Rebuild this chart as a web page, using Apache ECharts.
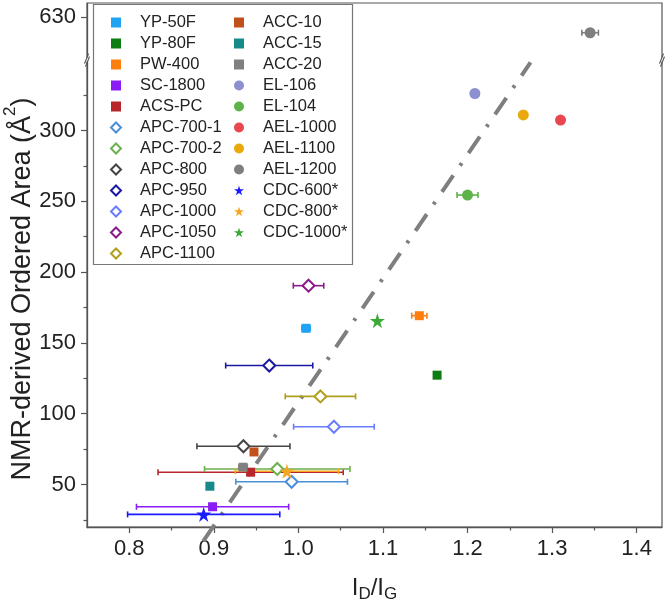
<!DOCTYPE html>
<html><head><meta charset="utf-8">
<script src="https://cdn.jsdelivr.net/npm/echarts@6/dist/echarts.min.js"></script>
<style>html,body{margin:0;padding:0;background:#fff}#c{width:666px;height:602px}</style>
</head><body><div id="c"></div>
<script>
// ---- data ----
const names = ['YP-50F','YP-80F','PW-400','SC-1800','ACS-PC','APC-700-1','APC-700-2','APC-800','APC-950','APC-1000','APC-1050','APC-1100',
  'ACC-10','ACC-15','ACC-20','EL-106','EL-104','AEL-1000','AEL-1100','AEL-1200','CDC-600*','CDC-800*','CDC-1000*'];
const idg = [1.009, 1.164, 1.143, 0.8985, 0.9435, 0.992, 0.975, 0.935, 0.9655, 1.042, 1.012, 1.026,
  0.9475, 0.8953, 0.9346, 1.2087, 1.200, 1.310, 1.266, 1.345, 0.888, 0.9864, 1.0934];
const area = [160.3, 127.2, 169.2, 34.3, 58.7, 51.9, 61.0, 77.0, 134.0, 90.8, 190.4, 112.2,
  73.0, 48.8, 62.2, 326.1, 254.4, 307.3, 311.0, 619.0, 28.9, 59.4, 165.7];
const idgErr = [0.005, 0, 0.009, 0.090, 0.1095, 0.066, 0.086, 0.055, 0.0515, 0.0477, 0.018, 0.0416,
  0, 0, 0.005, 0, 0.0124, 0, 0, 0.0098, 0.090, 0.061, 0];
const trendX = [0.8875, 1.2745];
const trendY = [10, 348];
const yTickValues = [50, 100, 150, 200, 250, 300, 630];
const yMinorValues = [25, 75, 125, 175, 225, 275, 325];
const xTickValues = [0.8, 0.9, 1.0, 1.1, 1.2, 1.3, 1.4];
const xMinorValues = [0.85, 0.95, 1.05, 1.15, 1.25, 1.35];

// ---- styles ----
const colors = ['#1fa3f2','#0b7d12','#ff7f0e','#8a1cf5','#b8262b','#4a90d9','#6cb04e','#444444','#1a1aa0','#6b7dff','#8b1a8b','#b0a01c',
  '#c0501c','#168a88','#808080','#8c8fd0','#5db34a','#e8474f','#eaa90a','#7f7f7f','#1a1aff','#f5a623','#3aaa35'];
const shapes = ['sq','sq','sq','sq','sq','di','di','di','di','di','di','di','sq','sq','sq','ci','ci','ci','ci','ci','st','st','st'];
const STAR = 'path://M50,0 L61.2,34.5 L97.6,34.5 L68.2,55.9 L79.4,90.5 L50,69.1 L20.6,90.5 L31.8,55.9 L2.4,34.5 L38.8,34.5 Z';
const FONT = 'Liberation Sans, Arial, sans-serif';

const chart = echarts.init(document.getElementById('c'), null, {renderer: 'canvas'});
const series = [];
names.forEach((n, i) => {
  const c = colors[i];
  if (idgErr[i] > 0) {
    series.push({
      type: 'custom', name: n + ' err', silent: true, z: 2, xAxisIndex: 0, yAxisIndex: 0,
      data: [[idg[i], area[i], idg[i] - idgErr[i], idg[i] + idgErr[i]]],
      encode: {x: [2, 3], y: 1},
      renderItem: function (params, api) {
        const y = api.value(1);
        const p1 = api.coord([api.value(2), y]);
        const p2 = api.coord([api.value(3), y]);
        const h = 3;
        const style = {stroke: c, lineWidth: 1.6, fill: null};
        return {type: 'group', children: [
          {type: 'line', shape: {x1: p1[0], y1: p1[1], x2: p2[0], y2: p2[1]}, style: style},
          {type: 'line', shape: {x1: p1[0], y1: p1[1] - h, x2: p1[0], y2: p1[1] + h}, style: style},
          {type: 'line', shape: {x1: p2[0], y1: p2[1] - h, x2: p2[0], y2: p2[1] + h}, style: style}
        ]};
      }
    });
  }
  const s = shapes[i];
  const sym = s === 'sq' ? 'rect' : s === 'di' ? 'diamond' : s === 'ci' ? 'circle' : STAR;
  const size = s === 'sq' ? 9 : s === 'di' ? 12 : s === 'ci' ? 11 : 15;
  const itemStyle = s === 'di' ? {color: '#fff', borderColor: c, borderWidth: 2, opacity: 1} : {color: c, opacity: 1};
  series.push({
    type: 'scatter', name: n, data: [[idg[i], area[i]]], symbol: sym, symbolSize: size,
    itemStyle: itemStyle, z: 3, xAxisIndex: 0, yAxisIndex: 0
  });
});
series.push({
  type: 'line', name: 'trend', data: trendX.map((x, i) => [x, trendY[i]]), symbol: 'none', clip: false,
  lineStyle: {color: '#7f7f7f', width: 4, type: [20, 12, 3, 12], cap: 'butt'}, z: 1, silent: true,
  xAxisIndex: 0, yAxisIndex: 0
});

const yBreaks = [{start: 350, end: 600, gap: 0}];
const legendCommon = {
  orient: 'vertical', top: 14, itemWidth: 10, itemHeight: 10, itemGap: 4, padding: 0, selectedMode: false,
  textStyle: {fontSize: 16.5, lineHeight: 17, color: '#222', fontFamily: FONT, padding: [0, 0, 0, 14]}
};

chart.setOption({
  backgroundColor: '#fff',
  animation: false,
  grid: {left: 87, right: 4, top: 3, bottom: 75, show: true, borderColor: '#555', borderWidth: 1.2,
    containLabel: false, outerBoundsMode: 'none'},
  legend: [
    Object.assign({}, legendCommon, {left: 110, data: names.slice(0, 12)}),
    Object.assign({}, legendCommon, {left: 234, data: names.slice(12)})
  ],
  xAxis: [
    {
      type: 'value', min: 0.75, max: 1.43, position: 'bottom',
      axisLine: {show: true, onZero: false, lineStyle: {color: '#555', width: 1.3}},
      axisTick: {show: true, inside: false, length: 6, customValues: xTickValues, lineStyle: {color: '#555', width: 1.2}},
      axisLabel: {customValues: xTickValues, formatter: v => v.toFixed(1), fontSize: 22, color: '#222', fontFamily: FONT, margin: 11},
      splitLine: {show: false},
      name: '{m|I}{s|D}{m|/I}{s|G}', nameLocation: 'middle', nameGap: 49, nameMoveOverlap: false,
      nameTextStyle: {rich: {
        m: {fontSize: 24, fontFamily: FONT, color: '#222', verticalAlign: 'top', lineHeight: 25},
        s: {fontSize: 17, fontFamily: FONT, color: '#222', verticalAlign: 'top', lineHeight: 18, padding: [10, 0, 0, 0]}
      }}
    },
    {
      type: 'value', min: 0.75, max: 1.43, position: 'bottom', gridIndex: 0,
      axisLine: {show: false},
      axisTick: {show: true, inside: false, length: 3.5, customValues: xMinorValues, lineStyle: {color: '#555', width: 1.2}},
      axisLabel: {show: false}, splitLine: {show: false}
    }
  ],
  yAxis: [
    {
      type: 'value', min: 20, max: 640, breaks: yBreaks, breakArea: {show: false}, position: 'left',
      axisLine: {show: true, onZero: false, lineStyle: {color: '#555', width: 1.3}},
      axisTick: {show: true, inside: false, length: 6, customValues: yTickValues, lineStyle: {color: '#555', width: 1.2}},
      axisLabel: {customValues: yTickValues, fontSize: 22, color: '#222', fontFamily: FONT, margin: 11},
      splitLine: {show: false},
      name: '{m|NMR-derived Ordered Area (Å}{s|2}{m|)}', nameLocation: 'middle', nameGap: 57, nameRotate: 90,
      nameMoveOverlap: false,
      nameTextStyle: {padding: [0, 48, 0, 0], rich: {
        m: {fontSize: 27, fontFamily: FONT, color: '#222', verticalAlign: 'top', lineHeight: 28, padding: [7, 0, 0, 0]},
        s: {fontSize: 17, fontFamily: FONT, color: '#222', verticalAlign: 'top', lineHeight: 18}
      }}
    },
    {
      type: 'value', min: 20, max: 640, breaks: yBreaks, breakArea: {show: false}, gridIndex: 0, position: 'left', offset: 0,
      axisLine: {show: false},
      axisTick: {show: true, inside: false, length: 3.5, customValues: yMinorValues, lineStyle: {color: '#555', width: 1.2}},
      axisLabel: {show: false}, splitLine: {show: false}
    }
  ],
  series: series
});

// break marks on the vertical frame lines
const yb = chart.convertToPixel({yAxisIndex: 0}, 350);
const xl = chart.convertToPixel({xAxisIndex: 0}, 0.75);
const xr = chart.convertToPixel({xAxisIndex: 0}, 1.43);
const marks = [];
[xl, xr].forEach(x => {
  marks.push({type: 'rect', shape: {x: x - 4, y: yb - 2, width: 8, height: 4}, style: {fill: '#fff'}, z: 100});
  marks.push({type: 'line', shape: {x1: x - 2.5, y1: yb - 1 + 5, x2: x + 1.5, y2: yb - 1 - 5}, style: {stroke: '#555', lineWidth: 1.2}, z: 101});
  marks.push({type: 'line', shape: {x1: x - 1.5, y1: yb + 2 + 5, x2: x + 2.5, y2: yb + 2 - 5}, style: {stroke: '#555', lineWidth: 1.2}, z: 101});
});
marks.push({type: 'rect', shape: {x: 93.5, y: 4.5, width: 259, height: 260}, style: {fill: 'none', stroke: '#777', lineWidth: 1.2}, z: 50});
chart.setOption({graphic: marks});
</script>
</body></html>
